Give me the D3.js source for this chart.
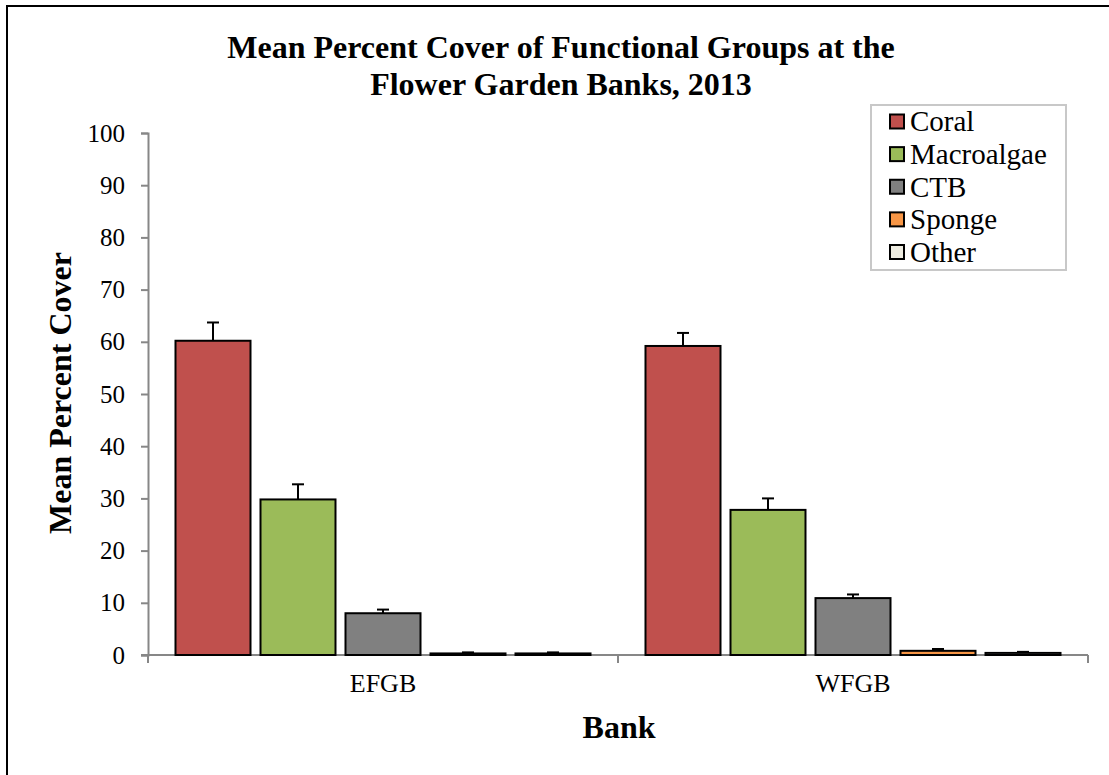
<!DOCTYPE html>
<html><head><meta charset="utf-8">
<script src="https://cdn.jsdelivr.net/npm/d3@7"></script>
<style>body{margin:0;background:#fff}svg{display:block}</style>
</head><body>
<svg id="c" width="1109" height="775"></svg>
<script>
const banks = ["EFGB", "WFGB"];
const groups = ["Coral", "Macroalgae", "CTB", "Sponge", "Other"];
const colors = ["#C0504D", "#9BBB59", "#808080", "#F79646", "#EEECE1"];
const efgbMeans = [60.2, 29.8, 8.0, 0.3, 0.3];
const efgbUpper = [63.7, 32.7, 8.7, 0.5, 0.5];
const wfgbMeans = [59.2, 27.8, 10.9, 0.8, 0.4];
const wfgbUpper = [61.7, 30.0, 11.6, 1.15, 0.6];
const yTicks = [0, 10, 20, 30, 40, 50, 60, 70, 80, 90, 100];

const meansByBank = {EFGB: efgbMeans, WFGB: wfgbMeans};
const upperByBank = {EFGB: efgbUpper, WFGB: wfgbUpper};
const data = [];
banks.forEach(b => groups.forEach((g, i) => data.push({bank: b, group: g, value: meansByBank[b][i], upper: upperByBank[b][i], color: colors[i]})));

const svg = d3.select("#c");
const serif = "'Liberation Serif','Times New Roman',serif";

// frame
svg.append("rect").attr("x", 7).attr("y", 6).attr("width", 1300).attr("height", 1000)
  .attr("fill", "none").attr("stroke", "#000").attr("stroke-width", 2);

const y = d3.scaleLinear().domain([0, 100]).range([655, 133]);
const x0 = d3.scaleBand().domain(banks).range([148, 1088]).padding(0);
const x1 = d3.scaleBand().domain(groups).range([0, x0.bandwidth()]).paddingInner(10/85).paddingOuter(0.3235);

// y axis
const yAxis = svg.append("g").attr("transform", "translate(148,0)")
  .call(d3.axisLeft(y).tickValues(yTicks).tickSize(7).tickPadding(16));
yAxis.select(".domain").attr("stroke", "#878787").attr("stroke-width", 2);
yAxis.selectAll(".tick line").attr("stroke", "#878787").attr("stroke-width", 2);
yAxis.selectAll(".tick text").style("font-family", serif).style("font-size", "25px").attr("fill", "#000");

// x axis
const xAxis = svg.append("g").attr("transform", "translate(0,655)")
  .call(d3.axisBottom(x0).tickSize(0).tickPadding(19));
xAxis.select(".domain").remove();
xAxis.selectAll(".tick text").style("font-family", serif).style("font-size", "26px").attr("fill", "#000");
svg.append("line").attr("x1", 141).attr("x2", 1088).attr("y1", y(0)).attr("y2", y(0))
  .attr("stroke", "#878787").attr("stroke-width", 2);
const bounds = [x0.range()[0], x0("WFGB"), x0.range()[1]];
svg.selectAll(".xt").data(bounds).join("line").attr("class", "xt")
  .attr("x1", d => d).attr("x2", d => d).attr("y1", y(0)).attr("y2", y(0) + 8)
  .attr("stroke", "#878787").attr("stroke-width", 2);

// bars
svg.selectAll(".bar").data(data).join("rect").attr("class", "bar")
  .attr("x", d => x0(d.bank) + x1(d.group))
  .attr("y", d => y(d.value))
  .attr("width", x1.bandwidth())
  .attr("height", d => y(0) - y(d.value))
  .attr("fill", d => d.color).attr("stroke", "#000").attr("stroke-width", 2);

// error bars
const eb = svg.selectAll(".eb").data(data).join("g").attr("class", "eb");
eb.append("line")
  .attr("x1", d => x0(d.bank) + x1(d.group) + x1.bandwidth()/2)
  .attr("x2", d => x0(d.bank) + x1(d.group) + x1.bandwidth()/2)
  .attr("y1", d => y(d.value)).attr("y2", d => y(d.upper))
  .attr("stroke", "#000").attr("stroke-width", 2);
eb.append("line")
  .attr("x1", d => x0(d.bank) + x1(d.group) + x1.bandwidth()/2 - 6)
  .attr("x2", d => x0(d.bank) + x1(d.group) + x1.bandwidth()/2 + 6)
  .attr("y1", d => y(d.upper)).attr("y2", d => y(d.upper))
  .attr("stroke", "#000").attr("stroke-width", 2);

// title
const title = svg.append("text").attr("text-anchor", "middle").style("font-family", serif)
  .attr("font-weight", "bold").style("font-size", "32px").attr("fill", "#000");
title.append("tspan").attr("x", 561).attr("y", 58).text("Mean Percent Cover of Functional Groups at the");
title.append("tspan").attr("x", 561).attr("y", 95).text("Flower Garden Banks, 2013");

// axis titles
svg.append("text").attr("transform", "translate(71,393) rotate(-90)").attr("text-anchor", "middle")
  .style("font-family", serif).attr("font-weight", "bold").style("font-size", "32px").text("Mean Percent Cover");
svg.append("text").attr("x", 619).attr("y", 738).attr("text-anchor", "middle")
  .style("font-family", serif).attr("font-weight", "bold").style("font-size", "32px").text("Bank");

// legend
const lg = svg.append("g");
lg.append("rect").attr("x", 871).attr("y", 105).attr("width", 195).attr("height", 165)
  .attr("fill", "#fff").attr("stroke", "#c8c8c8").attr("stroke-width", 2);
const ly = d3.scalePoint().domain(groups).range([121.5, 252]);
const items = lg.selectAll(".li").data(groups).join("g").attr("class", "li");
items.append("rect").attr("x", 890).attr("y", d => ly(d) - 7).attr("width", 14).attr("height", 14)
  .attr("fill", (d, i) => colors[i]).attr("stroke", "#000").attr("stroke-width", 2);
items.append("text").attr("x", 910).attr("y", d => ly(d)).attr("dy", "0.34em")
  .style("font-family", serif).style("font-size", "29px").attr("fill", "#000").text(d => d);
</script>
</body></html>
